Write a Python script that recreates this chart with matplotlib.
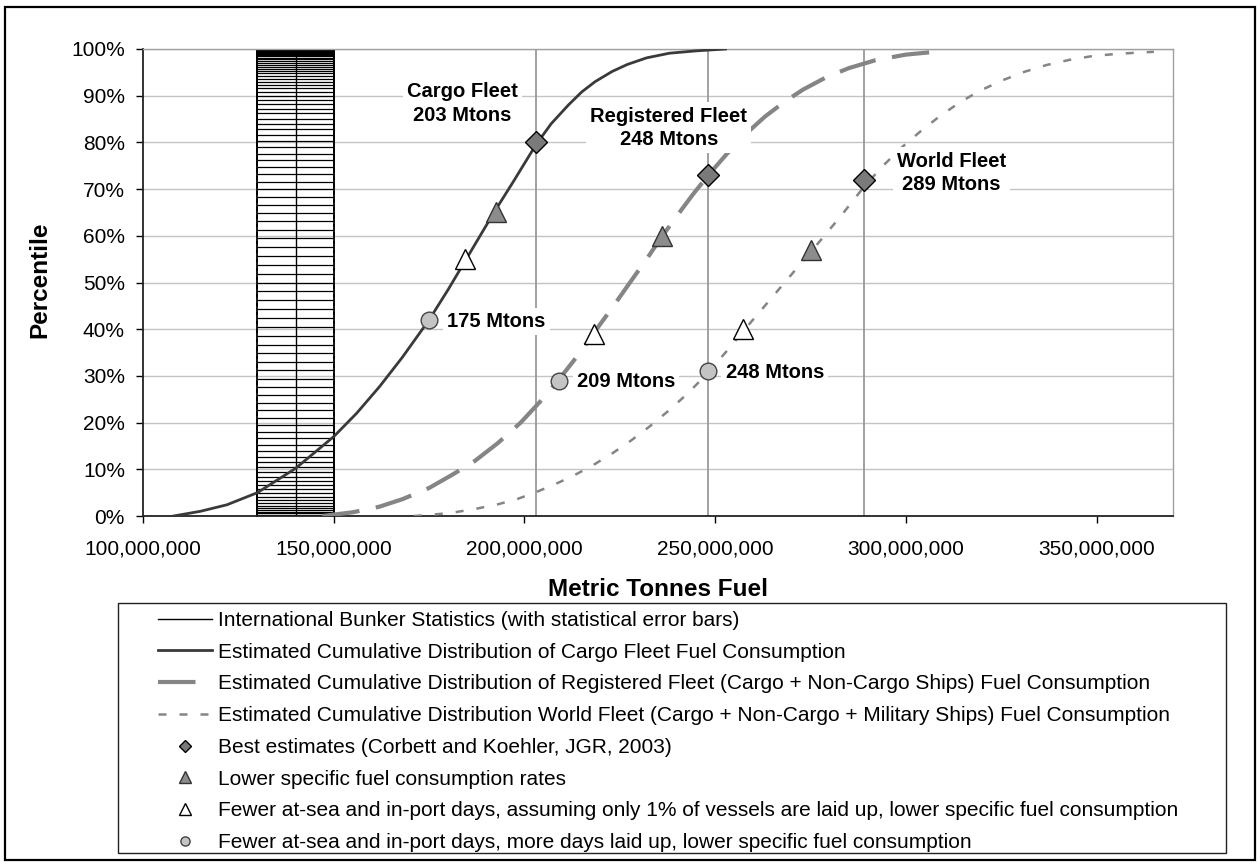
import matplotlib
matplotlib.use('Agg')
import matplotlib.pyplot as plt
from matplotlib.patches import Rectangle
from matplotlib.ticker import FuncFormatter, MultipleLocator

plt.rcParams['font.family'] = ['Liberation Sans', 'DejaVu Sans']

# International bunker statistics: 140 Mt +/- 10 Mt, drawn at every percentile level
bunker_fuel = 140
bunker_err = 10
bunker_pct = [100, 99.9, 99.8, 99.6, 99.4, 99.2, 99.0, 98.7, 98.4, 98.1, 97.8, 97.4,
              97.0, 96.6, 96.2, 95.8, 95.3, 94.8, 94.2, 93.6, 93.0, 92.3, 91.6, 90.8,
              90.0, 89.1, 88.2, 87.2, 86.2, 85.1, 84.0, 82.8, 81.6, 80.3, 79.0, 77.6,
              76.2, 74.7, 73.2, 71.6, 70.0, 68.3, 66.6, 64.9, 63.1, 61.3, 59.5, 57.6,
              55.7, 53.8, 51.9, 50.0, 48.1, 46.2, 44.3, 42.4, 40.5, 38.6, 36.7, 34.8,
              33.0, 31.2, 29.4, 27.6, 25.9, 24.2, 22.6, 21.0, 19.5, 18.0, 16.6, 15.2,
              13.9, 12.7, 11.5, 10.4, 9.4, 8.4, 7.5, 6.6, 5.7, 4.9, 4.1, 3.4, 2.8,
              2.2, 1.7, 1.3, 0.9, 0.6, 0.3, 0.1, 0]

# cumulative distributions (million tonnes, percentile)
cargo_fuel = [108, 115, 122, 130, 140, 150, 156, 162, 168, 175, 180, 184, 188, 192,
              197, 203, 207, 211.5, 215, 218.5, 223, 227, 232, 238, 245, 252.7]
cargo_pct = [0, 1.0, 2.4, 5.0, 10.2, 17.0, 22.0, 27.7, 34.0, 42.0, 48.5, 54.0, 59.5,
             65.0, 71.5, 79.5, 84.0, 88.0, 90.8, 93.0, 95.2, 96.7, 98.1, 99.1, 99.6, 100]

registered_fuel = [147, 155, 162, 168, 175, 181, 187, 193, 199, 204, 209, 214, 218,
                   223, 228, 232, 236, 240, 244, 248, 253, 258, 263, 268, 273, 279,
                   285, 292, 300, 309]
registered_pct = [0, 0.8, 2.0, 3.6, 6.0, 8.8, 11.8, 15.6, 20.0, 24.4, 29.2, 34.4, 39.0,
                  44.6, 50.4, 55.0, 59.8, 64.3, 68.7, 72.8, 77.5, 81.8, 85.5, 88.6,
                  91.3, 93.9, 95.9, 97.6, 98.8, 99.5]

world_fuel = [171, 176, 181, 187, 193, 198, 203, 208, 213, 218, 223, 228, 233, 238,
              243, 248, 253, 258, 263, 268, 273, 278, 283, 289, 294, 299, 304, 309,
              314, 319, 325, 331, 337, 343, 349, 356, 365]
world_pct = [0, 0.3, 0.7, 1.5, 2.5, 3.6, 5.1, 6.8, 8.7, 10.9, 13.4, 16.2, 19.3, 22.7,
             26.4, 30.6, 35.3, 40.2, 45.0, 49.8, 54.6, 59.4, 64.3, 70.5, 75.0, 79.0,
             82.5, 85.7, 88.5, 90.9, 93.2, 95.1, 96.6, 97.7, 98.5, 99.0, 99.4]

# scenario points: cargo, registered, world
best_fuel = [203, 248, 289]
best_pct = [80, 73, 72]
lower_sfc_fuel = [192.6, 236, 275]
lower_sfc_pct = [65, 60, 57]
one_pct_fuel = [184.3, 218.2, 257.3]
one_pct_pct = [55, 39, 40]
laid_up_fuel = [175, 209, 248]
laid_up_pct = [42, 29, 31]

fleet_names = ['Cargo Fleet', 'Registered Fleet', 'World Fleet']

labels = ['International Bunker Statistics (with statistical error bars)',
          'Estimated Cumulative Distribution of Cargo Fleet Fuel Consumption',
          'Estimated Cumulative Distribution of Registered Fleet (Cargo + Non-Cargo Ships) Fuel Consumption',
          'Estimated Cumulative Distribution World Fleet (Cargo + Non-Cargo + Military Ships) Fuel Consumption',
          'Best estimates (Corbett and Koehler, JGR, 2003)',
          'Lower specific fuel consumption rates',
          'Fewer at-sea and in-port days, assuming only 1% of vessels are laid up, lower specific fuel consumption',
          'Fewer at-sea and in-port days, more days laid up, lower specific fuel consumption']

W, H = 1260, 866
fig = plt.figure(figsize=(W / 100, H / 100), dpi=100)
ax = fig.add_axes([143 / W, (H - 516) / H, (1173 - 143) / W, (516 - 49) / H])

ax.set_xlim(100, 370)
ax.set_ylim(0, 100)
ax.xaxis.set_major_locator(MultipleLocator(50))
ax.yaxis.set_major_locator(MultipleLocator(10))
ax.xaxis.set_major_formatter(FuncFormatter(lambda v, p: f'{v * 1e6:,.0f}'))
ax.yaxis.set_major_formatter(FuncFormatter(lambda v, p: f'{v:.0f}%'))
ax.yaxis.grid(True, color='#c4c4c4', lw=1)
ax.set_axisbelow(True)
ax.tick_params(axis='both', direction='out', length=5, width=1, labelsize=15)
ax.tick_params(axis='x', pad=12)
ax.tick_params(axis='y', pad=8)
for s in ['left', 'bottom']:
    ax.spines[s].set_color('#222222')
    ax.spines[s].set_linewidth(1.3)
for s in ['top', 'right']:
    ax.spines[s].set_color('#a0a0a0')
    ax.spines[s].set_linewidth(1)

ax.vlines(best_fuel, 0, 100, color='#9a9a9a', lw=1.3, zorder=1)

eb = ax.errorbar([bunker_fuel] * len(bunker_pct), bunker_pct, xerr=bunker_err,
                 fmt='-', color='black', lw=1, elinewidth=0.9, capsize=4,
                 capthick=1.3, zorder=2, label=labels[0])

cargo_line, = ax.plot(cargo_fuel, cargo_pct, color='#3a3a3a', lw=2, zorder=3,
                      label=labels[1])
reg_line, = ax.plot(registered_fuel, registered_pct, color='#858585', lw=3,
                    dashes=(9, 4), zorder=3, label=labels[2])
world_line, = ax.plot(world_fuel, world_pct, color='#858585', lw=1.8,
                      dashes=(3.2, 5.2), zorder=3, label=labels[3])

best, = ax.plot(best_fuel, best_pct, ls='none', marker='D', ms=11, mfc='#7a7a7a',
                mec='black', mew=1, zorder=6, label=labels[4])
low, = ax.plot(lower_sfc_fuel, lower_sfc_pct, ls='none', marker='^', ms=15,
               mfc='#8c8c8c', mec='#333333', mew=1, zorder=6, label=labels[5])
one, = ax.plot(one_pct_fuel, one_pct_pct, ls='none', marker='^', ms=15,
               mfc='white', mec='black', mew=1, zorder=6, label=labels[6])
lay, = ax.plot(laid_up_fuel, laid_up_pct, ls='none', marker='o', ms=12,
               mfc='#c4c4c4', mec='#444444', mew=1, zorder=6, label=labels[7])

box = dict(facecolor='white', edgecolor='none', pad=3)
offsets = [(-53, 28), (-28, 34), (63, 5)]
for name, x, y, off in zip(fleet_names, best_fuel, best_pct, offsets):
    ax.annotate(f'{name}\n{x:.0f} Mtons', (x, y), xytext=off, textcoords='offset points',
                ha='center', va='center', fontsize=14.5, fontweight='bold',
                linespacing=1.3, bbox=box, zorder=5)
for x, y in zip(laid_up_fuel, laid_up_pct):
    ax.annotate(f'{x:.0f} Mtons', (x, y), xytext=(13, -1), textcoords='offset points',
                ha='left', va='center', fontsize=14.5, fontweight='bold',
                bbox=box, zorder=5)

fig.text(40 / W, 1 - 280 / H, 'Percentile', rotation=90, ha='center', va='center',
         fontsize=17.5, fontweight='bold')
fig.text(658 / W, 1 - 590 / H, 'Metric Tonnes Fuel', ha='center', va='center',
         fontsize=17.5, fontweight='bold')

handles = [eb[0], cargo_line, reg_line, world_line, best, low, one, lay]
fig.legend(handles, labels, loc='upper left', bbox_to_anchor=(158 / W, 1 - 611 / H),
           frameon=False, borderpad=0, borderaxespad=0, fontsize=15,
           handlelength=2.6, handletextpad=0.29, labelspacing=0.61, markerscale=0.55)

fig.patches.append(Rectangle((118 / W, (H - 853) / H), (1226 - 118) / W, (853 - 603) / H,
                             transform=fig.transFigure, fill=False, edgecolor='#222222',
                             lw=1))
fig.patches.append(Rectangle((5 / W, 6 / H), (W - 10) / W, (H - 13) / H,
                             transform=fig.transFigure, fill=False, edgecolor='black',
                             lw=1.6))

plt.savefig('out.png', dpi=100)
